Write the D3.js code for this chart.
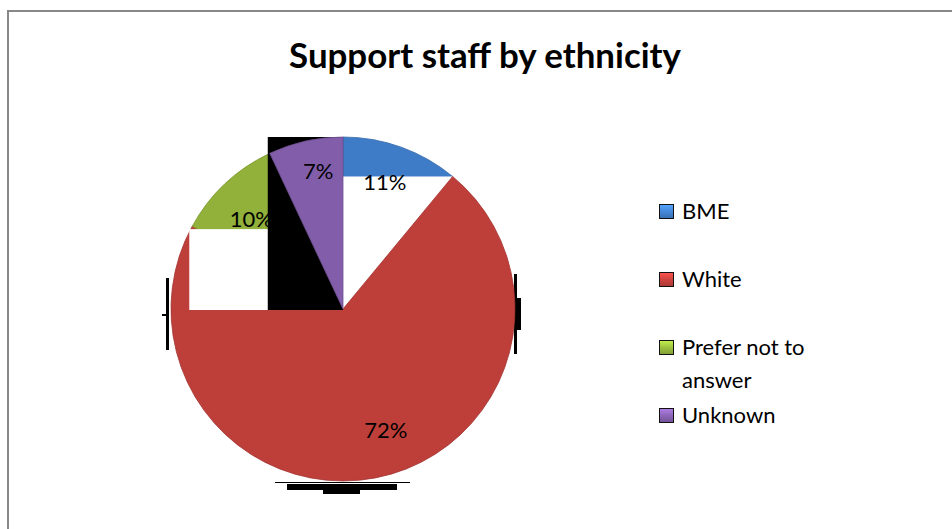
<!DOCTYPE html>
<html>
<head>
<meta charset="utf-8">
<script src="https://cdn.jsdelivr.net/npm/d3@7"></script>
<style>
  html, body { margin: 0; padding: 0; background: #fff; }
  svg { display: block; }
  text { font-family: Lato, "Open Sans", sans-serif; fill: #000; }
</style>
</head>
<body>
<svg id="chart" width="952" height="529"></svg>
<script>
// Chart data
const categories = ["BME", "White", "Prefer not to answer", "Unknown"];
const shares = [11, 72, 10, 7];
const valueLabels = ["11%", "72%", "10%", "7%"];
const legendLines = [["BME"], ["White"], ["Prefer not to", "answer"], ["Unknown"]];
const colors = ["#4588DA", "#D0443F", "#9EC23F", "#8E66BA"];
const titleText = "Support staff by ethnicity";

const svg = d3.select("#chart");
const W = 952, H = 529;
const cx = 343, cy = 309, R = 172;

// Frame (top and left edges)
svg.append("line").attr("x1", 7.5).attr("y1", 11).attr("x2", W).attr("y2", 11)
  .attr("stroke", "#888").attr("stroke-width", 2);
svg.append("line").attr("x1", 8).attr("y1", 10).attr("x2", 8).attr("y2", H)
  .attr("stroke", "#888").attr("stroke-width", 2);

// Title
const title = svg.append("text").attr("x", 485).attr("y", 68)
  .attr("text-anchor", "middle").attr("font-weight", 700).attr("font-size", 30)
  .text(titleText);
const tw = title.node().getComputedTextLength();
title.attr("font-size", 30 * 392 / tw);

// Gradients per slice
const defs = svg.append("defs");
colors.forEach((c, i) => {
  const g = defs.append("radialGradient").attr("id", "g" + i)
    .attr("gradientUnits", "userSpaceOnUse")
    .attr("cx", cx).attr("cy", cy - R * 0.2).attr("r", R * 1.25);
  g.append("stop").attr("offset", "0%").attr("stop-color", d3.color(c).brighter(0.2));
  g.append("stop").attr("offset", "70%").attr("stop-color", c);
  g.append("stop").attr("offset", "100%").attr("stop-color", d3.color(c).darker(0.25));
  const lg = defs.append("linearGradient").attr("id", "lg" + i)
    .attr("x1", 0).attr("y1", 0).attr("x2", 0).attr("y2", 1);
  lg.append("stop").attr("offset", "0%").attr("stop-color", d3.color(c).brighter(0.6));
  lg.append("stop").attr("offset", "50%").attr("stop-color", c);
  lg.append("stop").attr("offset", "100%").attr("stop-color", d3.color(c).darker(0.6));
});

const pie = d3.pie().sort(null).value(d => d);
const arcs = pie(shares);
const arc = d3.arc().innerRadius(0).outerRadius(R);
const pt = a => [cx + R * Math.sin(a), cy - R * Math.cos(a)];

// Shadow bars around the pie
const shadow = svg.append("g").attr("fill", "#000");
shadow.append("rect").attr("x", cx - R - 5).attr("y", cy - 31).attr("width", 3).attr("height", 72);
shadow.append("rect").attr("x", cx - R - 9).attr("y", cy + 5).attr("width", 6).attr("height", 2);
shadow.append("rect").attr("x", cx + R - 1).attr("y", cy - 35).attr("width", 3).attr("height", 80);
shadow.append("rect").attr("x", cx + R - 1).attr("y", cy - 11).attr("width", 7).attr("height", 32);
shadow.append("rect").attr("x", cx - 68).attr("y", cy + R + 1).attr("width", 135).attr("height", 1);
shadow.append("rect").attr("x", cx - 56).attr("y", cy + R + 3).attr("width", 110).attr("height", 6);
shadow.append("rect").attr("x", cx - 20).attr("y", cy + R + 8).attr("width", 37).attr("height", 5);

const slice = i => svg.append("path")
  .attr("transform", `translate(${cx},${cy})`)
  .attr("d", arc(arcs[i]))
  .attr("fill", `url(#g${i})`)
  .attr("stroke", d3.color(colors[i]).darker(0.7))
  .attr("stroke-width", 0.8);

// BME slice, with its lower part knocked out
slice(0);
const bEnd = pt(arcs[0].endAngle);
svg.append("rect").attr("x", cx).attr("y", bEnd[1])
  .attr("width", bEnd[0] - cx + 2).attr("height", cy - bEnd[1]).attr("fill", "#fff");

slice(1);
slice(2);

// Knock-out under the small left slices
const gStart = pt(arcs[2].startAngle);
svg.append("rect").attr("x", gStart[0] - 3).attr("y", gStart[1] + 3)
  .attr("width", cx - gStart[0] + 3).attr("height", cy - gStart[1] - 2).attr("fill", "#fff");
const uStart = pt(arcs[3].startAngle);
svg.append("rect").attr("x", uStart[0] - 2).attr("y", cy - R)
  .attr("width", cx - uStart[0] + 2).attr("height", R + 1).attr("fill", "#000");

slice(3);

// Value labels
const labelArc = d3.arc().innerRadius(R * 0.77).outerRadius(R * 0.77);
const labelOffsets = [[-3, -2], [18, -9], [-1, 7], [4, -9]];
arcs.forEach((a, i) => {
  const c = labelArc.centroid(a);
  svg.append("text")
    .attr("x", cx + c[0] + labelOffsets[i][0]).attr("y", cy + c[1] + labelOffsets[i][1] + 8)
    .attr("text-anchor", "middle").attr("font-size", 22)
    .text(valueLabels[i]);
});

// Legend
const legendY = [204, 272, 340, 408];
const legend = svg.append("g");
categories.forEach((cat, i) => {
  legend.append("rect").attr("x", 659.5).attr("y", legendY[i] + 0.5)
    .attr("width", 14).attr("height", 14)
    .attr("fill", `url(#lg${i})`).attr("stroke", "#111").attr("stroke-width", 1);
  legendLines[i].forEach((ln, j) => {
    legend.append("text").attr("x", 682).attr("y", legendY[i] + 15 + j * 33)
      .attr("font-size", 22).text(ln);
  });
});
</script>
</body>
</html>
